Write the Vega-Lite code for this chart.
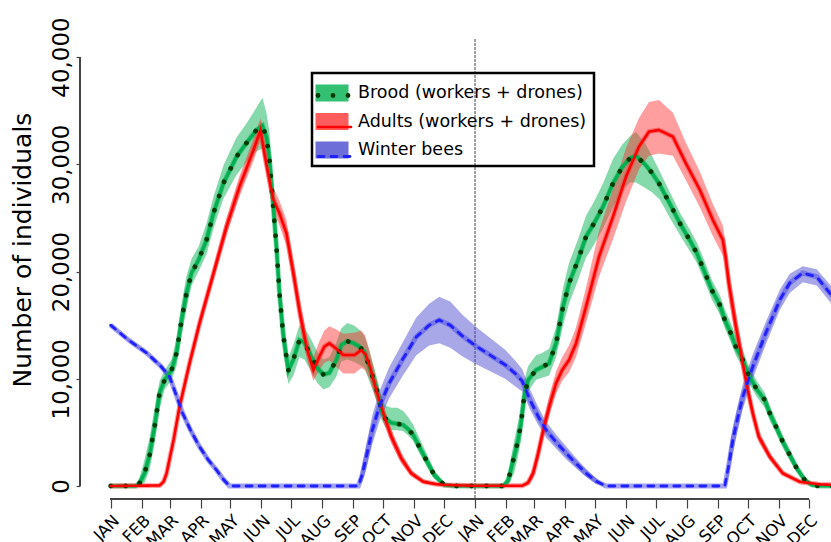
{
  "$schema": "https://vega.github.io/schema/vega-lite/v6.json",
  "width": 751,
  "height": 499,
  "autosize": {"type": "none"},
  "padding": {"left": 80, "top": 0, "right": 0, "bottom": 43},
  "background": "white",
  "config": {
    "view": {"stroke": null},
    "font": "DejaVu Sans",
    "axis": {"grid": false}
  },
  "data": {"values": [
    {"series": "Brood (workers + drones)", "day": 0, "mean": 0, "lo": 0, "hi": 0},
    {"series": "Brood (workers + drones)", "day": 25, "mean": 0, "lo": 0, "hi": 0},
    {"series": "Brood (workers + drones)", "day": 29, "mean": 280, "lo": 100, "hi": 800},
    {"series": "Brood (workers + drones)", "day": 34, "mean": 1200, "lo": 300, "hi": 2500},
    {"series": "Brood (workers + drones)", "day": 39, "mean": 2890, "lo": 1500, "hi": 4500},
    {"series": "Brood (workers + drones)", "day": 44, "mean": 5530, "lo": 4000, "hi": 7200},
    {"series": "Brood (workers + drones)", "day": 49, "mean": 8670, "lo": 7200, "hi": 9800},
    {"series": "Brood (workers + drones)", "day": 54, "mean": 9880, "lo": 9000, "hi": 10800},
    {"series": "Brood (workers + drones)", "day": 61, "mean": 10800, "lo": 9900, "hi": 11800},
    {"series": "Brood (workers + drones)", "day": 66, "mean": 12400, "lo": 11200, "hi": 13800},
    {"series": "Brood (workers + drones)", "day": 71, "mean": 15480, "lo": 14000, "hi": 17000},
    {"series": "Brood (workers + drones)", "day": 76, "mean": 17990, "lo": 16600, "hi": 19600},
    {"series": "Brood (workers + drones)", "day": 81, "mean": 19860, "lo": 18700, "hi": 21200},
    {"series": "Brood (workers + drones)", "day": 88, "mean": 21070, "lo": 20000, "hi": 22300},
    {"series": "Brood (workers + drones)", "day": 96, "mean": 22940, "lo": 21600, "hi": 24500},
    {"series": "Brood (workers + drones)", "day": 103, "mean": 25450, "lo": 24000, "hi": 27000},
    {"series": "Brood (workers + drones)", "day": 113, "mean": 28250, "lo": 26800, "hi": 29900},
    {"series": "Brood (workers + drones)", "day": 126, "mean": 30700, "lo": 29000, "hi": 32500},
    {"series": "Brood (workers + drones)", "day": 136, "mean": 31980, "lo": 30200, "hi": 33800},
    {"series": "Brood (workers + drones)", "day": 146, "mean": 33190, "lo": 31200, "hi": 35300},
    {"series": "Brood (workers + drones)", "day": 152, "mean": 33600, "lo": 31500, "hi": 36200},
    {"series": "Brood (workers + drones)", "day": 156, "mean": 32500, "lo": 30500, "hi": 34800},
    {"series": "Brood (workers + drones)", "day": 159, "mean": 30500, "lo": 28500, "hi": 33000},
    {"series": "Brood (workers + drones)", "day": 162, "mean": 27000, "lo": 25000, "hi": 29500},
    {"series": "Brood (workers + drones)", "day": 166, "mean": 22310, "lo": 20300, "hi": 24500},
    {"series": "Brood (workers + drones)", "day": 169, "mean": 17990, "lo": 16000, "hi": 20200},
    {"series": "Brood (workers + drones)", "day": 173, "mean": 13920, "lo": 12300, "hi": 15800},
    {"series": "Brood (workers + drones)", "day": 178, "mean": 10800, "lo": 9500, "hi": 12000},
    {"series": "Brood (workers + drones)", "day": 183, "mean": 11800, "lo": 10300, "hi": 13200},
    {"series": "Brood (workers + drones)", "day": 189, "mean": 13600, "lo": 12000, "hi": 15000},
    {"series": "Brood (workers + drones)", "day": 194, "mean": 13400, "lo": 11800, "hi": 14800},
    {"series": "Brood (workers + drones)", "day": 200, "mean": 12200, "lo": 10800, "hi": 13800},
    {"series": "Brood (workers + drones)", "day": 207, "mean": 11000, "lo": 9600, "hi": 12500},
    {"series": "Brood (workers + drones)", "day": 213, "mean": 10400, "lo": 9000, "hi": 11800},
    {"series": "Brood (workers + drones)", "day": 219, "mean": 10540, "lo": 9200, "hi": 12000},
    {"series": "Brood (workers + drones)", "day": 226, "mean": 11750, "lo": 10200, "hi": 13400},
    {"series": "Brood (workers + drones)", "day": 231, "mean": 13150, "lo": 11600, "hi": 14700},
    {"series": "Brood (workers + drones)", "day": 237, "mean": 13500, "lo": 11800, "hi": 15200},
    {"series": "Brood (workers + drones)", "day": 243, "mean": 13330, "lo": 11600, "hi": 15000},
    {"series": "Brood (workers + drones)", "day": 249, "mean": 13000, "lo": 11300, "hi": 14600},
    {"series": "Brood (workers + drones)", "day": 254, "mean": 12520, "lo": 11000, "hi": 14000},
    {"series": "Brood (workers + drones)", "day": 259, "mean": 11120, "lo": 9800, "hi": 12600},
    {"series": "Brood (workers + drones)", "day": 264, "mean": 9720, "lo": 8500, "hi": 11000},
    {"series": "Brood (workers + drones)", "day": 268, "mean": 8480, "lo": 7400, "hi": 9600},
    {"series": "Brood (workers + drones)", "day": 271, "mean": 7090, "lo": 6200, "hi": 8200},
    {"series": "Brood (workers + drones)", "day": 275, "mean": 6300, "lo": 5500, "hi": 7500},
    {"series": "Brood (workers + drones)", "day": 281, "mean": 5900, "lo": 5200, "hi": 7300},
    {"series": "Brood (workers + drones)", "day": 287, "mean": 5800, "lo": 5200, "hi": 7300},
    {"series": "Brood (workers + drones)", "day": 293, "mean": 5690, "lo": 5100, "hi": 7000},
    {"series": "Brood (workers + drones)", "day": 298, "mean": 5300, "lo": 4700, "hi": 6400},
    {"series": "Brood (workers + drones)", "day": 303, "mean": 4755, "lo": 4200, "hi": 5700},
    {"series": "Brood (workers + drones)", "day": 309, "mean": 3660, "lo": 3100, "hi": 4500},
    {"series": "Brood (workers + drones)", "day": 316, "mean": 2420, "lo": 1900, "hi": 3100},
    {"series": "Brood (workers + drones)", "day": 324, "mean": 1030, "lo": 700, "hi": 1500},
    {"series": "Brood (workers + drones)", "day": 334, "mean": 90, "lo": 0, "hi": 300},
    {"series": "Brood (workers + drones)", "day": 344, "mean": 0, "lo": 0, "hi": 0},
    {"series": "Brood (workers + drones)", "day": 393, "mean": 0, "lo": 0, "hi": 0},
    {"series": "Brood (workers + drones)", "day": 398, "mean": 500, "lo": 100, "hi": 1200},
    {"series": "Brood (workers + drones)", "day": 404, "mean": 2730, "lo": 1200, "hi": 4200},
    {"series": "Brood (workers + drones)", "day": 408, "mean": 4300, "lo": 2800, "hi": 6000},
    {"series": "Brood (workers + drones)", "day": 411, "mean": 5850, "lo": 4300, "hi": 7500},
    {"series": "Brood (workers + drones)", "day": 414, "mean": 8330, "lo": 6800, "hi": 9800},
    {"series": "Brood (workers + drones)", "day": 418, "mean": 9880, "lo": 8800, "hi": 11200},
    {"series": "Brood (workers + drones)", "day": 426, "mean": 10820, "lo": 9900, "hi": 12200},
    {"series": "Brood (workers + drones)", "day": 432, "mean": 11100, "lo": 10100, "hi": 12400},
    {"series": "Brood (workers + drones)", "day": 439, "mean": 11440, "lo": 10300, "hi": 12800},
    {"series": "Brood (workers + drones)", "day": 446, "mean": 13300, "lo": 12000, "hi": 14800},
    {"series": "Brood (workers + drones)", "day": 453, "mean": 16720, "lo": 15000, "hi": 18500},
    {"series": "Brood (workers + drones)", "day": 459, "mean": 18900, "lo": 17000, "hi": 20800},
    {"series": "Brood (workers + drones)", "day": 468, "mean": 21070, "lo": 19200, "hi": 23000},
    {"series": "Brood (workers + drones)", "day": 476, "mean": 23250, "lo": 21300, "hi": 25200},
    {"series": "Brood (workers + drones)", "day": 484, "mean": 24490, "lo": 22500, "hi": 26500},
    {"series": "Brood (workers + drones)", "day": 493, "mean": 26040, "lo": 24000, "hi": 28200},
    {"series": "Brood (workers + drones)", "day": 503, "mean": 28220, "lo": 26000, "hi": 30500},
    {"series": "Brood (workers + drones)", "day": 512, "mean": 29700, "lo": 27500, "hi": 31800},
    {"series": "Brood (workers + drones)", "day": 520, "mean": 30550, "lo": 28300, "hi": 32600},
    {"series": "Brood (workers + drones)", "day": 526, "mean": 30800, "lo": 28300, "hi": 33000},
    {"series": "Brood (workers + drones)", "day": 535, "mean": 30000, "lo": 27800, "hi": 32000},
    {"series": "Brood (workers + drones)", "day": 542, "mean": 29200, "lo": 27400, "hi": 30800},
    {"series": "Brood (workers + drones)", "day": 550, "mean": 28070, "lo": 26700, "hi": 29300},
    {"series": "Brood (workers + drones)", "day": 560, "mean": 26300, "lo": 25000, "hi": 27400},
    {"series": "Brood (workers + drones)", "day": 570, "mean": 24490, "lo": 23400, "hi": 25500},
    {"series": "Brood (workers + drones)", "day": 580, "mean": 22900, "lo": 21900, "hi": 23900},
    {"series": "Brood (workers + drones)", "day": 587, "mean": 21700, "lo": 20800, "hi": 22700},
    {"series": "Brood (workers + drones)", "day": 595, "mean": 19900, "lo": 19000, "hi": 20900},
    {"series": "Brood (workers + drones)", "day": 602, "mean": 18270, "lo": 17400, "hi": 19200},
    {"series": "Brood (workers + drones)", "day": 610, "mean": 16880, "lo": 16000, "hi": 17800},
    {"series": "Brood (workers + drones)", "day": 615, "mean": 15480, "lo": 14700, "hi": 16500},
    {"series": "Brood (workers + drones)", "day": 621, "mean": 14240, "lo": 13400, "hi": 15200},
    {"series": "Brood (workers + drones)", "day": 626, "mean": 12990, "lo": 12200, "hi": 14000},
    {"series": "Brood (workers + drones)", "day": 633, "mean": 11750, "lo": 11000, "hi": 12700},
    {"series": "Brood (workers + drones)", "day": 638, "mean": 10510, "lo": 9800, "hi": 11400},
    {"series": "Brood (workers + drones)", "day": 647, "mean": 9000, "lo": 8300, "hi": 9800},
    {"series": "Brood (workers + drones)", "day": 655, "mean": 8020, "lo": 7300, "hi": 8700},
    {"series": "Brood (workers + drones)", "day": 660, "mean": 6780, "lo": 6100, "hi": 7500},
    {"series": "Brood (workers + drones)", "day": 667, "mean": 5380, "lo": 4800, "hi": 6000},
    {"series": "Brood (workers + drones)", "day": 673, "mean": 4130, "lo": 3600, "hi": 4700},
    {"series": "Brood (workers + drones)", "day": 680, "mean": 2890, "lo": 2400, "hi": 3400},
    {"series": "Brood (workers + drones)", "day": 687, "mean": 1650, "lo": 1300, "hi": 2100},
    {"series": "Brood (workers + drones)", "day": 695, "mean": 560, "lo": 350, "hi": 900},
    {"series": "Brood (workers + drones)", "day": 702, "mean": 100, "lo": 0, "hi": 250},
    {"series": "Brood (workers + drones)", "day": 709, "mean": 0, "lo": 0, "hi": 0},
    {"series": "Brood (workers + drones)", "day": 730, "mean": 0, "lo": 0, "hi": 0},

    {"series": "Adults (workers + drones)", "day": 0, "mean": 0, "lo": 0, "hi": 0},
    {"series": "Adults (workers + drones)", "day": 49, "mean": 50, "lo": 0, "hi": 100},
    {"series": "Adults (workers + drones)", "day": 53, "mean": 400, "lo": 200, "hi": 700},
    {"series": "Adults (workers + drones)", "day": 56, "mean": 1180, "lo": 800, "hi": 1600},
    {"series": "Adults (workers + drones)", "day": 63, "mean": 4290, "lo": 3800, "hi": 4800},
    {"series": "Adults (workers + drones)", "day": 69, "mean": 7400, "lo": 6900, "hi": 7900},
    {"series": "Adults (workers + drones)", "day": 79, "mean": 11440, "lo": 10900, "hi": 12000},
    {"series": "Adults (workers + drones)", "day": 89, "mean": 15170, "lo": 14600, "hi": 15800},
    {"series": "Adults (workers + drones)", "day": 103, "mean": 19830, "lo": 19200, "hi": 20500},
    {"series": "Adults (workers + drones)", "day": 116, "mean": 24180, "lo": 23400, "hi": 25000},
    {"series": "Adults (workers + drones)", "day": 129, "mean": 27910, "lo": 27000, "hi": 28900},
    {"series": "Adults (workers + drones)", "day": 143, "mean": 31330, "lo": 30300, "hi": 32400},
    {"series": "Adults (workers + drones)", "day": 150, "mean": 33190, "lo": 32200, "hi": 34300},
    {"series": "Adults (workers + drones)", "day": 154, "mean": 31000, "lo": 30000, "hi": 32200},
    {"series": "Adults (workers + drones)", "day": 159, "mean": 28530, "lo": 27400, "hi": 29700},
    {"series": "Adults (workers + drones)", "day": 163, "mean": 26670, "lo": 25600, "hi": 27800},
    {"series": "Adults (workers + drones)", "day": 169, "mean": 25430, "lo": 24300, "hi": 26600},
    {"series": "Adults (workers + drones)", "day": 176, "mean": 23560, "lo": 22400, "hi": 24800},
    {"series": "Adults (workers + drones)", "day": 183, "mean": 19830, "lo": 18700, "hi": 21000},
    {"series": "Adults (workers + drones)", "day": 189, "mean": 16410, "lo": 15300, "hi": 17600},
    {"series": "Adults (workers + drones)", "day": 196, "mean": 12990, "lo": 12000, "hi": 14200},
    {"series": "Adults (workers + drones)", "day": 203, "mean": 10820, "lo": 9800, "hi": 12000},
    {"series": "Adults (workers + drones)", "day": 209, "mean": 12060, "lo": 10800, "hi": 13500},
    {"series": "Adults (workers + drones)", "day": 214, "mean": 13000, "lo": 11500, "hi": 14500},
    {"series": "Adults (workers + drones)", "day": 219, "mean": 13300, "lo": 11700, "hi": 14900},
    {"series": "Adults (workers + drones)", "day": 226, "mean": 12800, "lo": 11100, "hi": 14600},
    {"series": "Adults (workers + drones)", "day": 233, "mean": 12210, "lo": 10500, "hi": 14200},
    {"series": "Adults (workers + drones)", "day": 244, "mean": 12210, "lo": 10500, "hi": 14300},
    {"series": "Adults (workers + drones)", "day": 251, "mean": 12680, "lo": 11000, "hi": 14500},
    {"series": "Adults (workers + drones)", "day": 255, "mean": 12300, "lo": 10800, "hi": 14000},
    {"series": "Adults (workers + drones)", "day": 259, "mean": 11280, "lo": 10000, "hi": 12700},
    {"series": "Adults (workers + drones)", "day": 266, "mean": 8950, "lo": 8000, "hi": 10000},
    {"series": "Adults (workers + drones)", "day": 273, "mean": 6780, "lo": 6000, "hi": 7600},
    {"series": "Adults (workers + drones)", "day": 281, "mean": 4600, "lo": 4000, "hi": 5300},
    {"series": "Adults (workers + drones)", "day": 291, "mean": 2580, "lo": 2100, "hi": 3100},
    {"series": "Adults (workers + drones)", "day": 301, "mean": 1180, "lo": 900, "hi": 1500},
    {"series": "Adults (workers + drones)", "day": 313, "mean": 400, "lo": 250, "hi": 600},
    {"series": "Adults (workers + drones)", "day": 325, "mean": 180, "lo": 100, "hi": 300},
    {"series": "Adults (workers + drones)", "day": 336, "mean": 90, "lo": 40, "hi": 150},
    {"series": "Adults (workers + drones)", "day": 365, "mean": 20, "lo": 0, "hi": 50},
    {"series": "Adults (workers + drones)", "day": 412, "mean": 20, "lo": 0, "hi": 50},
    {"series": "Adults (workers + drones)", "day": 418, "mean": 300, "lo": 100, "hi": 600},
    {"series": "Adults (workers + drones)", "day": 423, "mean": 1180, "lo": 700, "hi": 1700},
    {"series": "Adults (workers + drones)", "day": 428, "mean": 3000, "lo": 2300, "hi": 3800},
    {"series": "Adults (workers + drones)", "day": 434, "mean": 5530, "lo": 4700, "hi": 6400},
    {"series": "Adults (workers + drones)", "day": 440, "mean": 7700, "lo": 6800, "hi": 8700},
    {"series": "Adults (workers + drones)", "day": 446, "mean": 9580, "lo": 8600, "hi": 10700},
    {"series": "Adults (workers + drones)", "day": 452, "mean": 10800, "lo": 9800, "hi": 12000},
    {"series": "Adults (workers + drones)", "day": 459, "mean": 11750, "lo": 10600, "hi": 13100},
    {"series": "Adults (workers + drones)", "day": 466, "mean": 13300, "lo": 12000, "hi": 14800},
    {"series": "Adults (workers + drones)", "day": 476, "mean": 16720, "lo": 15200, "hi": 18500},
    {"series": "Adults (workers + drones)", "day": 489, "mean": 21380, "lo": 19500, "hi": 23800},
    {"series": "Adults (workers + drones)", "day": 503, "mean": 25110, "lo": 23000, "hi": 27700},
    {"series": "Adults (workers + drones)", "day": 516, "mean": 28840, "lo": 26500, "hi": 31500},
    {"series": "Adults (workers + drones)", "day": 529, "mean": 31640, "lo": 29500, "hi": 34300},
    {"series": "Adults (workers + drones)", "day": 539, "mean": 33040, "lo": 30800, "hi": 35800},
    {"series": "Adults (workers + drones)", "day": 549, "mean": 33190, "lo": 31000, "hi": 36000},
    {"series": "Adults (workers + drones)", "day": 563, "mean": 32570, "lo": 30800, "hi": 34800},
    {"series": "Adults (workers + drones)", "day": 576, "mean": 30080, "lo": 28500, "hi": 32000},
    {"series": "Adults (workers + drones)", "day": 590, "mean": 27600, "lo": 26000, "hi": 29300},
    {"series": "Adults (workers + drones)", "day": 603, "mean": 24800, "lo": 23300, "hi": 26300},
    {"series": "Adults (workers + drones)", "day": 613, "mean": 22940, "lo": 21500, "hi": 24300},
    {"series": "Adults (workers + drones)", "day": 616, "mean": 21200, "lo": 19800, "hi": 22600},
    {"series": "Adults (workers + drones)", "day": 619, "mean": 18900, "lo": 17500, "hi": 20300},
    {"series": "Adults (workers + drones)", "day": 626, "mean": 14900, "lo": 13700, "hi": 16200},
    {"series": "Adults (workers + drones)", "day": 633, "mean": 11450, "lo": 10400, "hi": 12600},
    {"series": "Adults (workers + drones)", "day": 638, "mean": 8950, "lo": 8100, "hi": 9800},
    {"series": "Adults (workers + drones)", "day": 643, "mean": 6780, "lo": 6100, "hi": 7500},
    {"series": "Adults (workers + drones)", "day": 649, "mean": 4600, "lo": 4100, "hi": 5100},
    {"series": "Adults (workers + drones)", "day": 660, "mean": 2730, "lo": 2400, "hi": 3100},
    {"series": "Adults (workers + drones)", "day": 673, "mean": 1180, "lo": 1000, "hi": 1400},
    {"series": "Adults (workers + drones)", "day": 690, "mean": 400, "lo": 300, "hi": 500},
    {"series": "Adults (workers + drones)", "day": 710, "mean": 150, "lo": 100, "hi": 200},
    {"series": "Adults (workers + drones)", "day": 730, "mean": 80, "lo": 50, "hi": 120},

    {"series": "Winter bees", "day": 0, "mean": 15000, "lo": 14900, "hi": 15100},
    {"series": "Winter bees", "day": 18, "mean": 13600, "lo": 13450, "hi": 13750},
    {"series": "Winter bees", "day": 36, "mean": 12400, "lo": 12250, "hi": 12550},
    {"series": "Winter bees", "day": 50, "mean": 11200, "lo": 11000, "hi": 11400},
    {"series": "Winter bees", "day": 59, "mean": 10190, "lo": 10000, "hi": 10400},
    {"series": "Winter bees", "day": 66, "mean": 8400, "lo": 8150, "hi": 8650},
    {"series": "Winter bees", "day": 72, "mean": 6800, "lo": 6550, "hi": 7050},
    {"series": "Winter bees", "day": 80, "mean": 5200, "lo": 4950, "hi": 5450},
    {"series": "Winter bees", "day": 89, "mean": 3660, "lo": 3450, "hi": 3900},
    {"series": "Winter bees", "day": 98, "mean": 2400, "lo": 2200, "hi": 2600},
    {"series": "Winter bees", "day": 106, "mean": 1490, "lo": 1350, "hi": 1650},
    {"series": "Winter bees", "day": 113, "mean": 600, "lo": 500, "hi": 750},
    {"series": "Winter bees", "day": 119, "mean": 0, "lo": 0, "hi": 0},
    {"series": "Winter bees", "day": 248, "mean": 0, "lo": 0, "hi": 0},
    {"series": "Winter bees", "day": 252, "mean": 1100, "lo": 400, "hi": 2000},
    {"series": "Winter bees", "day": 256, "mean": 2730, "lo": 1600, "hi": 3900},
    {"series": "Winter bees", "day": 262, "mean": 5220, "lo": 3900, "hi": 6600},
    {"series": "Winter bees", "day": 269, "mean": 7400, "lo": 6000, "hi": 8800},
    {"series": "Winter bees", "day": 279, "mean": 9600, "lo": 8200, "hi": 11100},
    {"series": "Winter bees", "day": 292, "mean": 11750, "lo": 10200, "hi": 13300},
    {"series": "Winter bees", "day": 306, "mean": 13900, "lo": 12200, "hi": 15700},
    {"series": "Winter bees", "day": 319, "mean": 15000, "lo": 13100, "hi": 17000},
    {"series": "Winter bees", "day": 329, "mean": 15480, "lo": 13300, "hi": 17650},
    {"series": "Winter bees", "day": 340, "mean": 15000, "lo": 12900, "hi": 17200},
    {"series": "Winter bees", "day": 352, "mean": 14000, "lo": 12100, "hi": 16000},
    {"series": "Winter bees", "day": 365, "mean": 13100, "lo": 11400, "hi": 14900},
    {"series": "Winter bees", "day": 380, "mean": 12200, "lo": 10700, "hi": 13800},
    {"series": "Winter bees", "day": 395, "mean": 11300, "lo": 10000, "hi": 12700},
    {"series": "Winter bees", "day": 405, "mean": 10500, "lo": 9300, "hi": 11700},
    {"series": "Winter bees", "day": 412, "mean": 9800, "lo": 8800, "hi": 10900},
    {"series": "Winter bees", "day": 420, "mean": 8000, "lo": 7100, "hi": 9000},
    {"series": "Winter bees", "day": 428, "mean": 6500, "lo": 5700, "hi": 7400},
    {"series": "Winter bees", "day": 436, "mean": 5220, "lo": 4500, "hi": 6000},
    {"series": "Winter bees", "day": 446, "mean": 4100, "lo": 3500, "hi": 4800},
    {"series": "Winter bees", "day": 456, "mean": 3060, "lo": 2500, "hi": 3700},
    {"series": "Winter bees", "day": 466, "mean": 2100, "lo": 1650, "hi": 2600},
    {"series": "Winter bees", "day": 476, "mean": 1200, "lo": 850, "hi": 1600},
    {"series": "Winter bees", "day": 486, "mean": 450, "lo": 200, "hi": 750},
    {"series": "Winter bees", "day": 496, "mean": 0, "lo": 0, "hi": 0},
    {"series": "Winter bees", "day": 615, "mean": 0, "lo": 0, "hi": 0},
    {"series": "Winter bees", "day": 619, "mean": 2000, "lo": 1000, "hi": 3200},
    {"series": "Winter bees", "day": 623, "mean": 4290, "lo": 3100, "hi": 5500},
    {"series": "Winter bees", "day": 628, "mean": 6400, "lo": 5200, "hi": 7600},
    {"series": "Winter bees", "day": 633, "mean": 8330, "lo": 7200, "hi": 9500},
    {"series": "Winter bees", "day": 643, "mean": 11120, "lo": 10000, "hi": 12300},
    {"series": "Winter bees", "day": 656, "mean": 14260, "lo": 13200, "hi": 15300},
    {"series": "Winter bees", "day": 670, "mean": 17340, "lo": 16400, "hi": 18300},
    {"series": "Winter bees", "day": 680, "mean": 18930, "lo": 18000, "hi": 19800},
    {"series": "Winter bees", "day": 693, "mean": 19860, "lo": 19000, "hi": 20500},
    {"series": "Winter bees", "day": 707, "mean": 19510, "lo": 18700, "hi": 20200},
    {"series": "Winter bees", "day": 720, "mean": 18000, "lo": 17200, "hi": 18800},
    {"series": "Winter bees", "day": 730, "mean": 17000, "lo": 16200, "hi": 17800}
  ]},
  "layer": [
    {
      "mark": {"type": "rule", "color": "#a0a0a0", "strokeDash": [1.5, 2.5], "strokeWidth": 1},
      "encoding": {
        "x": {"datum": 365, "type": "quantitative"},
        "y": {"datum": 41600, "type": "quantitative"},
        "y2": {"datum": -1212}
      }
    },
    {
      "mark": {"type": "area", "opacity": 0.48, "clip": true},
      "encoding": {
        "x": {
          "field": "day", "type": "quantitative",
          "scale": {"domain": [-30.7, 721.3], "nice": false, "zero": false},
          "axis": {
            "values": [0, 31, 59, 90, 120, 151, 181, 212, 243, 273, 304, 334, 365, 396, 424, 455, 485, 516, 546, 577, 608, 638, 669, 699],
            "tickCount": 40,
            "labelExpr": "['JAN','FEB','MAR','APR','MAY','JUN','JUL','AUG','SEP','OCT','NOV','DEC'][indexof([0,31,59,90,120,151,181,212,243,273,304,334], datum.value % 365)]",
            "labelAngle": -45, "labelAlign": "right", "labelBaseline": "top",
            "labelFontSize": 16.5, "labelColor": "black", "labelPadding": 4,
            "tickSize": 9, "tickColor": "#444", "tickWidth": 1.2,
            "domain": false, "title": null, "labelOverlap": false
          }
        },
        "y": {
          "field": "lo", "type": "quantitative", "stack": null,
          "scale": {"domain": [-1212, 45315], "nice": false, "zero": false},
          "axis": {
            "values": [0, 10000, 20000, 30000, 40000], "format": ",d",
            "labelAngle": -90, "labelAlign": "center", "labelBaseline": "alphabetic",
            "labelFontSize": 23, "labelColor": "black", "labelPadding": 8,
            "tickSize": 4, "tickColor": "#444", "tickWidth": 1.2,
            "domain": false, "title": "Number of individuals",
            "titleFontSize": 25, "titleFontWeight": "normal", "titleColor": "black", "titlePadding": 15
          }
        },
        "y2": {"field": "hi"},
        "fill": {
          "field": "series", "type": "nominal",
          "scale": {"domain": ["Brood (workers + drones)", "Adults (workers + drones)", "Winter bees"], "range": ["#00b050", "#ff3535", "#4a4ad0"]},
          "legend": {
            "title": null, "orient": "none", "legendX": 232, "legendY": 73,
            "symbolType": "M-1.27,-0.65H1.27V0.65H-1.27Z", "symbolSize": 676, "symbolOpacity": 0.8, "symbolStrokeWidth": 0,
            "labelFontSize": 17.5, "labelColor": "black", "labelOffset": 13, "labelLimit": 500,
            "rowPadding": 6.5, "padding": 7, "strokeColor": "black",
            "encoding": {"legend": {"strokeWidth": {"value": 2.5}}}
          }
        }
      }
    },
    {
      "mark": {"type": "line", "strokeWidth": 5, "opacity": 0.5, "clip": true},
      "encoding": {
        "x": {"field": "day", "type": "quantitative"},
        "y": {"field": "mean", "type": "quantitative"},
        "color": {
          "field": "series", "type": "nominal",
          "scale": {"domain": ["Brood (workers + drones)", "Adults (workers + drones)", "Winter bees"], "range": ["#00b050", "#ff3535", "#4646e8"]},
          "legend": null
        }
      }
    },
    {
      "transform": [{"filter": "datum.series === 'Brood (workers + drones)'"}],
      "mark": {"type": "line", "color": "#00b050", "strokeWidth": 3.2, "clip": true},
      "encoding": {
        "x": {"field": "day", "type": "quantitative"},
        "y": {"field": "mean", "type": "quantitative"}
      }
    },
    {
      "mark": {"type": "line", "clip": true, "strokeCap": "round"},
      "encoding": {
        "x": {"field": "day", "type": "quantitative"},
        "y": {"field": "mean", "type": "quantitative"},
        "stroke": {
          "field": "series", "type": "nominal",
          "scale": {"domain": ["Winter bees", "Adults (workers + drones)", "Brood (workers + drones)"], "range": ["#2020ff", "#ff0000", "#053a05"]},
          "legend": {
            "title": null, "orient": "none", "legendX": 232, "legendY": 73,
            "values": ["Brood (workers + drones)", "Adults (workers + drones)", "Winter bees"],
            "symbolType": "M-1.27,0H1.27", "symbolSize": 676, "symbolFillColor": "transparent",
            "labelFontSize": 17.5, "labelColor": "transparent", "labelOffset": 13, "labelLimit": 500,
            "rowPadding": 6.5, "padding": 7,
            "encoding": {"symbols": {"strokeCap": {"value": "round"}}}
          }
        },
        "strokeDash": {
          "field": "series", "type": "nominal",
          "scale": {"domain": ["Winter bees", "Adults (workers + drones)", "Brood (workers + drones)"], "range": [[6, 7], [1, 0], [0.01, 14.99]]},
          "legend": {
            "title": null, "orient": "none", "legendX": 232, "legendY": 73,
            "values": ["Brood (workers + drones)", "Adults (workers + drones)", "Winter bees"],
            "symbolType": "M-1.27,0H1.27", "symbolSize": 676,
            "labelFontSize": 17.5, "labelColor": "transparent", "labelOffset": 13, "labelLimit": 500,
            "rowPadding": 6.5, "padding": 7,
            "encoding": {"symbols": {"strokeCap": {"value": "round"}}}
          }
        },
        "strokeWidth": {
          "field": "series", "type": "nominal",
          "scale": {"type": "ordinal", "domain": ["Winter bees", "Adults (workers + drones)", "Brood (workers + drones)"], "range": [2.8, 2.6, 4.8]},
          "legend": {
            "title": null, "orient": "none", "legendX": 232, "legendY": 73,
            "values": ["Brood (workers + drones)", "Adults (workers + drones)", "Winter bees"],
            "symbolType": "M-1.27,0H1.27", "symbolSize": 676,
            "labelFontSize": 17.5, "labelColor": "transparent", "labelOffset": 13, "labelLimit": 500,
            "rowPadding": 6.5, "padding": 7,
            "encoding": {"symbols": {"strokeCap": {"value": "round"}}}
          }
        }
      }
    },
    {
      "mark": {"type": "rule", "color": "#444", "strokeWidth": 1.3},
      "encoding": {
        "x": {"datum": 0, "type": "quantitative"},
        "x2": {"datum": 699},
        "y": {"datum": -1212, "type": "quantitative"}
      }
    },
    {
      "mark": {"type": "rule", "color": "#444", "strokeWidth": 1.3},
      "encoding": {
        "x": {"datum": -30.7, "type": "quantitative"},
        "y": {"datum": 0, "type": "quantitative"},
        "y2": {"datum": 40000}
      }
    }
  ]
}
